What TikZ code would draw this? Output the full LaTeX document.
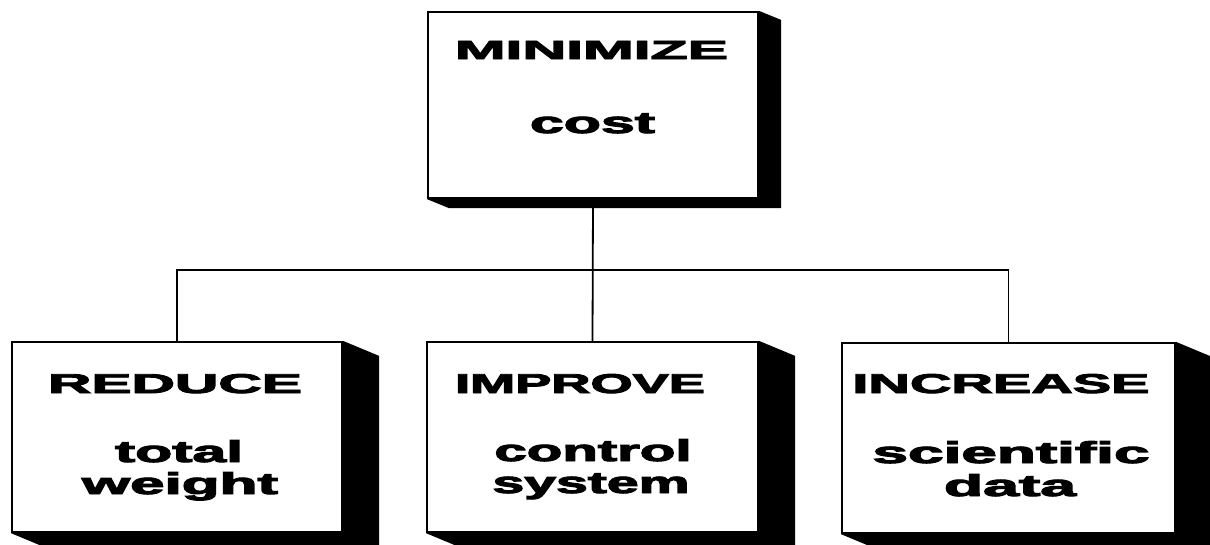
\documentclass[tikz,border=0pt]{standalone}
\usepackage{fontspec}
\setmainfont{Liberation Sans}[BoldFeatures={FakeBold=3}]
\usetikzlibrary{calc}
% caps: height = cap height
\newcommand{\fitt}[3]{\resizebox{#1pt}{#2pt}{\bfseries #3}}
% lower case: height = x-height
\newcommand{\fitx}[3]{\resizebox{#1pt}{#2pt}{\bfseries\raisebox{0pt}[\fontcharht\font`x]{#3}}}
\newcommand{\dropshade}[3]{%
  \fill (#1.north east) -- ++(#2,#3) -- ($(#1.south east)+(#2,#3)$) --
        ($(#1.south west)+(#2,#3)$) -- (#1.south west) -- (#1.south east) -- cycle;}
\begin{document}
\begin{tikzpicture}[x=1pt,y=-1pt,
  goalbox/.style={draw, line width=2.2pt, fill=white, rectangle, inner sep=0pt},
  lbl/.style={inner sep=0pt, outer sep=0pt, anchor=base},
  link/.style={line width=1.8pt}]
\useasboundingbox (0,0) rectangle (1210,544);
\clip (0,0) rectangle (1210,544);
% boxes
\node[goalbox, minimum width=330pt, minimum height=186pt] (top) at (593,105) {};
\node[goalbox, minimum width=330pt, minimum height=190pt] (left) at (177,437) {};
\node[goalbox, minimum width=331pt, minimum height=190pt] (mid) at (592.5,437) {};
\node[goalbox, minimum width=333pt, minimum height=190pt] (right) at (1008.5,438) {};
% shadows
\dropshade{top}{22}{9}
\dropshade{left}{36}{15}
\dropshade{mid}{36}{15}
\dropshade{right}{36}{15}
% connectors
\coordinate (bar) at (593,270);
\draw[link] (top.south) -- (mid.north);
\draw[link] (left.north) -- (left.north |- bar) -- (right.north |- bar) -- (right.north);
% labels
\node[lbl] (t1) at (591.5,59) {\fitt{273}{18}{MINIMIZE}};
\node[lbl] (t2) at (592.5,133) {\fitx{125}{16}{cost}};
\node[lbl] (l1) at (175,393) {\fitt{254}{19}{REDUCE}};
\node[lbl] (l2) at (179,462) {\fitx{128}{16}{total}};
\node[lbl] (l3) at (180,494) {\fitx{196}{16}{weight}};
\node[lbl] (m1) at (580,393) {\fitt{250}{19}{IMPROVE}};
\node[lbl] (m2) at (593,461) {\fitx{197}{16}{control}};
\node[lbl] (m3) at (591,493) {\fitx{197}{16}{system}};
\node[lbl] (r1) at (1001,393) {\fitt{297}{19}{INCREASE}};
\node[lbl] (r2) at (1011,463) {\fitx{277}{16}{scientific}};
\node[lbl] (r3) at (1010,496) {\fitx{132}{16}{data}};
\end{tikzpicture}
\end{document}
